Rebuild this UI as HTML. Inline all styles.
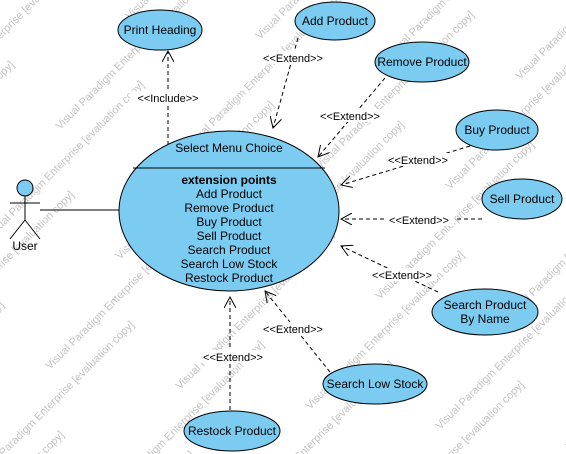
<!DOCTYPE html>
<html><head><meta charset="utf-8"><style>
html,body{margin:0;padding:0;background:#fff;width:566px;height:454px;overflow:hidden;}
svg{display:block;overflow:hidden;font-family:"Liberation Sans","DejaVu Sans",sans-serif;}
</style></head><body>
<svg id="d" width="566" height="454" viewBox="0 0 566 454">
<defs>
<marker id="ah" viewBox="0 0 12 12" refX="11" refY="6" markerWidth="12" markerHeight="12" markerUnits="userSpaceOnUse" orient="auto">
<path d="M0,0 L11,6 L0,12" fill="none" stroke="#000" stroke-width="1"/>
</marker>
</defs>
<g id="wm"></g>
<g stroke="#000" stroke-width="1" fill="none">
<circle cx="25" cy="188" r="8" fill="#7ccbf1"/>
<line x1="25" y1="196" x2="25" y2="220"/>
<line x1="10" y1="203" x2="40" y2="203"/>
<line x1="25" y1="220" x2="10" y2="239"/>
<line x1="25" y1="220" x2="40" y2="239"/>
</g>
<text x="25" y="250" font-size="12" text-anchor="middle">User</text>
<line x1="40" y1="210" x2="120" y2="210" stroke="#000"/>

<g fill="none" stroke="#000" stroke-dasharray="4,3" marker-end="url(#ah)">
<line x1="168" y1="145" x2="168" y2="51"/>
<line x1="298" y1="38" x2="273" y2="128"/>
<line x1="385" y1="78" x2="318" y2="157"/>
<line x1="470" y1="146" x2="341" y2="185"/>
<line x1="482" y1="219" x2="341" y2="219"/>
<line x1="438" y1="292" x2="341" y2="246"/>
<line x1="330" y1="372" x2="265" y2="291"/>
<line x1="230" y1="410" x2="230" y2="297"/>
</g>

<g font-size="11" text-anchor="middle">
<rect x="130" y="91" width="76" height="13" fill="#fff"/>
<text x="168" y="102">&lt;&lt;Include&gt;&gt;</text>
<rect x="258" y="51" width="70" height="13" fill="#fff"/>
<text x="293" y="62">&lt;&lt;Extend&gt;&gt;</text>
<rect x="315" y="109" width="70" height="13" fill="#fff"/>
<text x="350" y="120">&lt;&lt;Extend&gt;&gt;</text>
<rect x="383" y="153" width="70" height="13" fill="#fff"/>
<text x="418" y="164">&lt;&lt;Extend&gt;&gt;</text>
<rect x="384" y="213" width="70" height="13" fill="#fff"/>
<text x="419" y="224">&lt;&lt;Extend&gt;&gt;</text>
<rect x="367" y="268" width="70" height="13" fill="#fff"/>
<text x="402" y="279">&lt;&lt;Extend&gt;&gt;</text>
<rect x="258" y="322" width="70" height="13" fill="#fff"/>
<text x="293" y="333">&lt;&lt;Extend&gt;&gt;</text>
<rect x="198" y="350" width="70" height="13" fill="#fff"/>
<text x="233" y="361">&lt;&lt;Extend&gt;&gt;</text>
</g>

<g fill="#7ccbf1" stroke="#000" stroke-width="1">
<ellipse cx="229" cy="211" rx="110" ry="80"/>
<ellipse cx="160" cy="30" rx="42" ry="20"/>
<ellipse cx="335" cy="21" rx="40" ry="19"/>
<ellipse cx="422" cy="62" rx="47" ry="20"/>
<ellipse cx="497" cy="130" rx="41" ry="20"/>
<ellipse cx="522" cy="199" rx="40" ry="20"/>
<ellipse cx="485" cy="312" rx="53" ry="23"/>
<ellipse cx="375" cy="384" rx="52" ry="20"/>
<ellipse cx="232" cy="431" rx="48" ry="20"/>
</g>
<line x1="133" y1="168" x2="325" y2="168" stroke="#000"/>

<g font-size="12" text-anchor="middle" fill="#000">
<text x="229" y="152">Select Menu Choice</text>
<text x="229" y="184" font-weight="bold">extension points</text>
<text x="229" y="198">Add Product</text>
<text x="229" y="212">Remove Product</text>
<text x="229" y="226">Buy Product</text>
<text x="229" y="240">Sell Product</text>
<text x="229" y="254">Search Product</text>
<text x="229" y="268">Search Low Stock</text>
<text x="229" y="282">Restock Product</text>
<text x="160" y="34">Print Heading</text>
<text x="335" y="25">Add Product</text>
<text x="422" y="66">Remove Product</text>
<text x="497" y="134">Buy Product</text>
<text x="522" y="203">Sell Product</text>
<text x="485" y="309">Search Product</text>
<text x="485" y="323">By Name</text>
<text x="375" y="388">Search Low Stock</text>
<text x="232" y="435">Restock Product</text>
</g>
</svg>
<script>
var wm=document.getElementById('wm');
for(var i=-4;i<10;i++){for(var j=-3;j<7;j++){
var t=document.createElementNS('http://www.w3.org/2000/svg','text');


var x=i*130+j*60, y=j*130+i*20;
t.setAttribute('x',x);t.setAttribute('y',y);
t.setAttribute('font-size','11');t.setAttribute('fill','#c4c4c4');
t.setAttribute('transform','rotate(-45 '+x+' '+y+')');
t.textContent='Visual Paradigm Enterprise [evaluation copy]';
wm.appendChild(t);}}
</script>
</body></html>
